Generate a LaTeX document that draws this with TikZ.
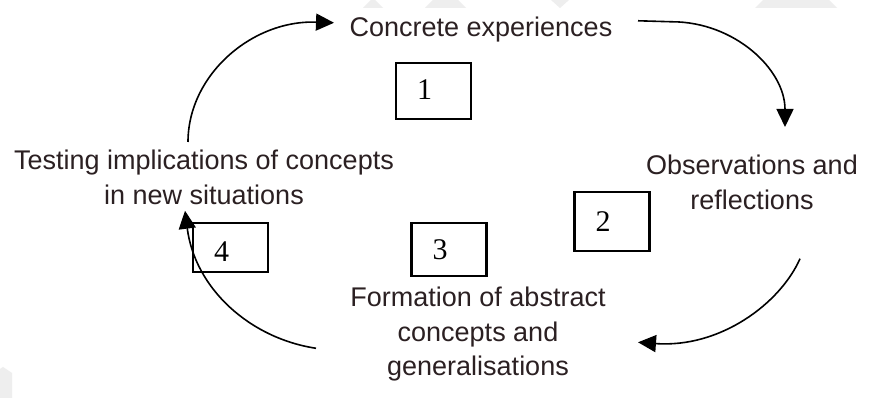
\documentclass[tikz,border=0pt]{standalone}
\usepackage{fontspec}
\setmainfont{Liberation Sans}
\newfontfamily\numfont{Liberation Serif}
\usetikzlibrary{arrows.meta}
\definecolor{inkdark}{RGB}{43,32,34}
\definecolor{markgray}{RGB}{238,238,238}

\begin{document}
\begin{tikzpicture}[x=1pt,y=1pt,
  stage/.style={text=inkdark, font=\fontsize{27}{34.5}\selectfont, align=center, inner sep=0pt},
  numbox/.style={draw, line width=2.2pt, minimum width=75pt, inner sep=0pt},
  numtext/.style={font=\numfont\fontsize{30}{32}\selectfont, xshift=-9pt},
  cyc/.style={line width=1.6pt, -{Triangle[length=18pt,width=17pt]}}]
  \useasboundingbox[fill=white] (0,0) rectangle (875,398);
  \fill[markgray] (363,390) -- (371,398) -- (375,398) -- (383,390) -- cycle;
  \fill[markgray] (425,390) -- (433,398) -- (458,398) -- (466,390) -- cycle;
  \fill[markgray] (551,398) -- (569,398) -- (560,390) -- cycle;
  \fill[markgray] (755,390) -- (763,398) -- (829,398) -- (837,390) -- cycle;
  \fill[markgray] (0,0) -- (12,0) -- (12,25) -- (3,31) -- (0,29) -- cycle;

  \node[stage, anchor=north] (concrete) at (481,381) {Concrete experiences};
  \node[stage, anchor=north] (testing) at (204,248) {Testing implications of concepts\\in new situations};
  \node[stage, anchor=north] (observe) at (752,243) {Observations and\\reflections};
  \node[stage, anchor=north] (formation) at (478,111) {Formation of abstract\\concepts and\\generalisations};

  \node[numbox, minimum height=56pt, label={[numtext,yshift=1pt]center:1}] (box1) at (433.5,307) {};
  \node[numbox, minimum height=59pt, label={[numtext]center:2}] (box2) at (612,176.5) {};
  \node[numbox, minimum height=53pt, label={[numtext]center:3}] (box3) at (449,148.5) {};
  \node[numbox, minimum height=49pt, label={[numtext,yshift=-4pt]center:4}] (box4) at (230.5,150.5) {};

  \draw[cyc] ([xshift=-16,yshift=8]testing.north) .. controls +(0,67) and +(-82,3) .. ([xshift=-147,yshift=7]concrete.center);
  \draw[cyc] ([xshift=157,yshift=9]concrete.center) -- ++(34,-1) .. controls +(62,0) and +(0,58) .. ([xshift=33,yshift=28]observe.north);
  \draw[cyc] ([xshift=48,yshift=-49]observe.south) .. controls +(-20,-45) and +(82,-6) .. ([xshift=160,yshift=-8]formation.center);
  \draw[cyc] ([xshift=-162,yshift=-14]formation.center) .. controls +(-66,10) and +(10,-78) .. ([xshift=-19,yshift=-6]testing.south);
\end{tikzpicture}
\end{document}
